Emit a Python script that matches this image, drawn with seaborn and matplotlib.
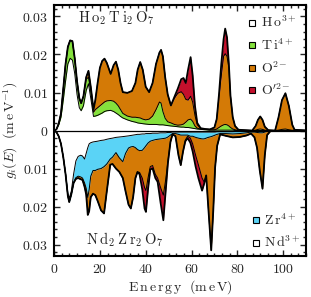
import numpy as np
import matplotlib
matplotlib.use("Agg")
import matplotlib.pyplot as plt
from matplotlib.lines import Line2D
from matplotlib.ticker import MultipleLocator, AutoMinorLocator, FuncFormatter
import seaborn as sns

sns.set_theme(style="ticks")
plt.rcParams['font.family'] = ['DejaVu Serif']
plt.rcParams['mathtext.fontset'] = 'cm'

# Ho2Ti2O7 partial DOS (upper half), meV and meV^-1
e_top = [0, 1, 2, 3, 4, 5, 6, 7, 8, 9, 10, 11, 11.8, 12.8, 14, 15, 16, 17.2, 18, 19,
         20, 21, 22, 23, 24.7, 26, 27, 28, 29, 30, 32, 34, 35.5, 36.5, 37.6, 38.7, 40, 41.5, 43, 44.5,
         46, 46.7, 47.5, 48.5, 49.6, 51, 52.5, 54, 55.5, 56.5, 57.5, 58.5, 59.6, 60.5, 61.5, 62.5, 64, 66, 68, 70,
         71, 72, 73, 74, 74.7, 75.5, 76.3, 77, 78, 79, 80.5, 86.5, 88, 89, 90, 91, 92, 93.5, 96.5, 98,
         99.5, 101, 102.5, 104, 105, 110]
ho = [0, 0.0003, 0.0015, 0.0035, 0.008, 0.013, 0.0175, 0.019, 0.0185, 0.015, 0.0095, 0.006, 0.0052, 0.0065, 0.0105, 0.0123, 0.0085, 0.0037, 0.0038, 0.004,
      0.0043, 0.0046, 0.005, 0.0052, 0.0053, 0.005, 0.0046, 0.0042, 0.0037, 0.0033, 0.0028, 0.0024, 0.0022, 0.002, 0.0019, 0.0018, 0.0017, 0.0016, 0.0016, 0.0016,
      0.0015, 0.0015, 0.0015, 0.0014, 0.0013, 0.0012, 0.0011, 0.001, 0.0009, 0.0009, 0.0008, 0.0008, 0.0007, 0.0006, 0.0005, 0.0004, 0.0003, 0.0002, 0.0001, 0.0001,
      0.0001, 0.0001, 0.0001, 0.0001, 0.0001, 0.0001, 0.0001, 0.0001, 0.0001, 0, 0, 0, 0, 0, 0, 0, 0, 0, 0, 0,
      0, 0, 0, 0, 0, 0]
ti = [0, 0, 0.0003, 0.001, 0.003, 0.0045, 0.0045, 0.0047, 0.005, 0.004, 0.0035, 0.0025, 0.002, 0.0025, 0.003, 0.0017, 0.002, 0.0011, 0.0017, 0.002,
      0.0022, 0.0024, 0.0025, 0.0026, 0.0026, 0.0027, 0.0026, 0.0023, 0.0018, 0.0012, 0.001, 0.0011, 0.0013, 0.0014, 0.0014, 0.0012, 0.0011, 0.0014, 0.0022, 0.0039,
      0.006, 0.0057, 0.0035, 0.0018, 0.001, 0.0008, 0.0005, 0.0004, 0.0006, 0.0008, 0.0014, 0.002, 0.0023, 0.0018, 0.0007, 0.0002, 0.0001, 0.0001, 0.0001, 0.0001,
      0.0003, 0.0007, 0.0011, 0.0014, 0.0015, 0.0014, 0.0011, 0.0007, 0.0003, 0.0002, 0, 0, 0.0001, 0.0003, 0.0004, 0.0003, 0.0001, 0, 0, 0.0001,
      0.0003, 0.0004, 0.0002, 0, 0, 0]
o_top = [0, 0, 0, 0, 0, 0, 0, 0, 0, 0, 0, 0, 0, 0, 0.0005, 0.0017, 0.001, 0.0007, 0.0025, 0.0065,
         0.01, 0.0113, 0.0114, 0.01, 0.007, 0.0095, 0.0109, 0.0095, 0.007, 0.0056, 0.0061, 0.0069, 0.009, 0.0126, 0.0147, 0.013, 0.0087, 0.0071, 0.0087, 0.012,
         0.013, 0.014, 0.0145, 0.0108, 0.0072, 0.0046, 0.0069, 0.0084, 0.0087, 0.0078, 0.006, 0.0052, 0.006, 0.0051, 0.0028, 0.0009, 0.0002, 0.0001, 0.0001, 0.0006,
         0.0026, 0.0082, 0.0133, 0.018, 0.0186, 0.018, 0.0153, 0.0082, 0.0031, 0.001, 0.0002, 0, 0.0011, 0.0025, 0.0033, 0.0025, 0.0009, 0.0001, 0, 0.0034,
         0.0077, 0.0094, 0.0063, 0.0015, 0.0002, 0]
o2_top = [0, 0, 0, 0, 0, 0, 0, 0, 0, 0, 0, 0, 0, 0, 0, 0, 0, 0, 0, 0,
          0, 0, 0, 0, 0, 0, 0, 0, 0, 0, 0, 0, 0, 0, 0, 0, 0, 0, 0, 0,
          0, 0, 0, 0, 0, 0, 0.0003, 0.0012, 0.0033, 0.0043, 0.0043, 0.008, 0.0103, 0.007, 0.0025, 0.0005, 0, 0, 0, 0,
          0, 0.0005, 0.003, 0.0045, 0.0066, 0.005, 0.001, 0.0002, 0, 0, 0, 0, 0, 0, 0, 0, 0, 0, 0, 0,
          0, 0, 0, 0, 0, 0]

# Nd2Zr2O7 partial DOS (lower half)
e_bot = [0, 1, 2, 3, 4, 5, 6, 6.6, 7.5, 8.5, 9.5, 10.5, 11.6, 12.4, 13.3, 14, 14.7, 15.3, 16, 17,
         18, 19, 20.5, 21.8, 23, 24.5, 25.5, 27, 28.5, 30, 31.2, 32.5, 33.5, 34.5, 35.5, 36.4, 37.3, 38.5, 39.5, 40.1,
         41, 42, 43, 44.2, 45.2, 46.5, 47.7, 48.7, 49.7, 50.8, 51.7, 53, 54.3, 55.3, 56.3, 57.3, 58.3, 59.5, 60.5, 61.8,
         63, 64.6, 65.5, 66.4, 67.3, 68.6, 69.5, 70.3, 71.2, 72.5, 75, 78, 81, 84, 86, 87.5, 88.6, 89.8, 91, 92,
         93, 94.5, 110]
nd = [0, 0.0004, 0.0015, 0.0035, 0.007, 0.0113, 0.0165, 0.0178, 0.016, 0.0115, 0.008, 0.0068, 0.0065, 0.0067, 0.0075, 0.006, 0.0045, 0.0035, 0.0032, 0.003,
      0.0029, 0.0028, 0.0026, 0.0025, 0.0023, 0.0021, 0.002, 0.0018, 0.0017, 0.0016, 0.0015, 0.0014, 0.0013, 0.0012, 0.0011, 0.001, 0.001, 0.0009, 0.0009, 0.0008,
      0.0008, 0.0008, 0.0007, 0.0007, 0.0007, 0.0006, 0.0006, 0.0006, 0.0005, 0.0005, 0.0004, 0.0004, 0.0004, 0.0004, 0.0004, 0.0004, 0.0004, 0.0004, 0.0004, 0.0004,
      0.0004, 0.0004, 0.0004, 0.0004, 0.0004, 0.0004, 0.0004, 0.0004, 0.0003, 0.0003, 0.0003, 0.0003, 0.0002, 0.0002, 0.0001, 0.0001, 0.0001, 0.0001, 0.0001, 0.0001,
      0.0001, 0, 0]
zr = [0, 0, 0, 0, 0, 0.0002, 0.0007, 0.001, 0.0008, 0.0023, 0.0044, 0.0052, 0.0057, 0.0058, 0.0063, 0.0092, 0.0131, 0.012, 0.0088, 0.0075,
      0.0076, 0.0074, 0.0074, 0.007, 0.0065, 0.0054, 0.005, 0.004, 0.0055, 0.0066, 0.0045, 0.0032, 0.003, 0.003, 0.0034, 0.004, 0.0043, 0.0043, 0.0036, 0.0032,
      0.0025, 0.002, 0.0019, 0.0017, 0.0016, 0.0016, 0.0015, 0.0014, 0.0012, 0.0007, 0.0004, 0.0004, 0.0006, 0.0008, 0.0008, 0.0008, 0.0008, 0.0011, 0.0011, 0.0014,
      0.0016, 0.0018, 0.0018, 0.0016, 0.0014, 0.0012, 0.001, 0.0008, 0.0007, 0.0005, 0.0005, 0.0006, 0.0006, 0.0004, 0.0003, 0.0003, 0.0004, 0.0005, 0.0005, 0.0003,
      0.0001, 0, 0]
o_bot = [0, 0, 0, 0, 0, 0, 0, 0, 0, 0, 0.0003, 0.0005, 0.0006, 0.0005, 0.001, 0.0016, 0.0036, 0.005, 0.0055, 0.0061,
         0.0065, 0.0083, 0.011, 0.0123, 0.0072, 0.0015, 0.0018, 0.0042, 0.0037, 0.0043, 0.01, 0.0149, 0.0162, 0.0133, 0.008, 0.0059, 0.0057, 0.0073, 0.0105, 0.0118,
         0.0092, 0.0067, 0.0066, 0.0091, 0.0102, 0.0128, 0.0149, 0.011, 0.0063, 0.0018, 0.0002, 0.0007, 0.0055, 0.0079, 0.0043, 0.0013, 0.0003, 0.0005, 0.002, 0.0047,
         0.007, 0.0103, 0.0113, 0.0098, 0.0182, 0.0299, 0.0196, 0.0085, 0.003, 0.0002, 0.0006, 0.0009, 0.0009, 0.0007, 0.0004, 0.0014, 0.004, 0.0099, 0.0147, 0.0061,
         0.001, 0.0001, 0]
o2_bot = [0, 0, 0, 0, 0, 0, 0, 0, 0, 0, 0, 0, 0, 0, 0, 0, 0.001, 0.0007, 0, 0,
          0, 0, 0, 0, 0, 0, 0, 0, 0, 0, 0, 0, 0, 0, 0, 0, 0.0005, 0.003, 0.0055, 0.0056,
          0.003, 0.0007, 0.0008, 0.001, 0.001, 0.004, 0.0066, 0.003, 0.0005, 0, 0, 0, 0, 0, 0, 0.0003, 0.0005, 0.0012, 0.002, 0.003,
          0.0035, 0.0033, 0.0005, 0, 0, 0, 0, 0, 0, 0, 0, 0, 0, 0, 0, 0, 0, 0, 0, 0,
          0, 0, 0]

WHITE = "#ffffff"
GREEN = "#84e13c"
ORANGE = "#d47a06"
RED = "#c4102c"
CYAN = "#5ad3f6"


def stack_panel(ax, energy, parts, colors, sign):
    energy = np.asarray(energy)
    cum = np.cumsum(np.array(parts, dtype=float), axis=0) * sign
    lower = np.zeros_like(energy, dtype=float)
    for level, c in zip(cum, colors):
        ax.fill_between(energy, lower, level, color=c, lw=0, zorder=1)
        lower = level
    for i, level in enumerate(cum):
        outer = i == len(cum) - 1
        sns.lineplot(x=energy, y=level, ax=ax, color="black",
                     lw=1.3 if outer else 0.7, zorder=3, sort=False)


fig = plt.figure(figsize=(3.11, 2.97), dpi=100)
ax = fig.add_axes([0.174, 0.138, 0.81, 0.845])

stack_panel(ax, e_top, [ho, ti, o_top, o2_top], [WHITE, GREEN, ORANGE, RED], 1)
stack_panel(ax, e_bot, [nd, zr, o_bot, o2_bot], [WHITE, CYAN, ORANGE, RED], -1)
ax.axhline(0, color="black", lw=0.9, zorder=4)

ax.set_xlim(0, 110)
ax.set_ylim(-0.033, 0.033)
ax.xaxis.set_major_locator(MultipleLocator(20))
ax.xaxis.set_minor_locator(AutoMinorLocator(6))
ax.yaxis.set_major_locator(MultipleLocator(0.01))
ax.yaxis.set_minor_locator(AutoMinorLocator(5))
ax.yaxis.set_major_formatter(FuncFormatter(lambda v, p: f"${abs(round(v, 4)):g}$"))
ax.xaxis.set_major_formatter(FuncFormatter(lambda v, p: f"${v:g}$"))
ax.tick_params(which="both", direction="in", top=True, right=True, labelsize=10, width=1)
ax.tick_params(which="major", length=4, pad=4)
ax.tick_params(which="minor", length=2)
for s in ax.spines.values():
    s.set_linewidth(1.5)
    s.set_color("black")

ax.set_xlabel(r"$\mathrm{E\,n\,e\,r\,g\,y\ \ (m\,e\,V)}$", fontsize=10, labelpad=2)
ax.set_ylabel(r"$g_i(E)\ \ (\mathrm{m\,e\,V}^{-1})$", fontsize=10, labelpad=2)

ax.text(0.245, 0.948, r"$\mathrm{H\:o_2\:T\:i_2\:O_7}$", transform=ax.transAxes,
        ha="center", va="center", fontsize=10.5)
ax.text(0.28, 0.064, r"$\mathrm{N\:d_2\:Z\:r_2\:O_7}$", transform=ax.transAxes,
        ha="center", va="center", fontsize=10.5)


def sq(c):
    return Line2D([], [], marker="s", ls="", mfc=c, mec="black", ms=5, mew=0.8)


leg1 = ax.legend([sq(WHITE), sq(GREEN), sq(ORANGE), sq(RED)],
                 [r"$\mathrm{H\,o}^{3+}$", r"$\mathrm{T\,i}^{4+}$", r"$\mathrm{O}^{2-}$", r"$\mathrm{O}^{\prime 2-}$"],
                 loc="upper right", frameon=False, fontsize=10, handlelength=0.6,
                 handletextpad=0.3, labelspacing=0.5, borderaxespad=0.3)
ax.add_artist(leg1)
ax.legend([sq(CYAN), sq(WHITE)], [r"$\mathrm{Z\,r}^{4+}$", r"$\mathrm{N\,d}^{3+}$"],
          loc="lower right", frameon=False, fontsize=10, handlelength=0.6,
          handletextpad=0.3, labelspacing=0.5, borderaxespad=0.0)

fig.savefig("out.png", dpi=100)
